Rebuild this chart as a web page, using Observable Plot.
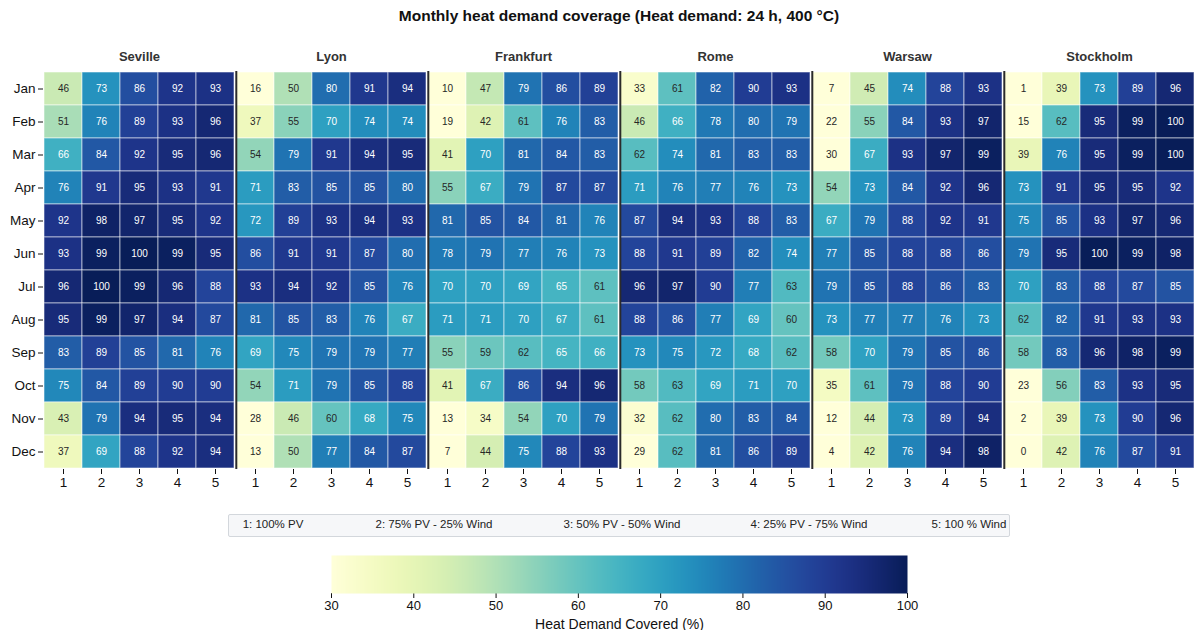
<!DOCTYPE html>
<html>
<head>
<meta charset="utf-8">
<script src="https://cdn.jsdelivr.net/npm/d3@7"></script>
<script src="https://cdn.jsdelivr.net/npm/@observablehq/plot@0.6"></script>
<style>
  html, body { margin: 0; padding: 0; background: #fff; }
  #root { position: relative; width: 1197px; height: 630px; font-family: "Liberation Sans", Arial, sans-serif; overflow: hidden; }
  #title { position: absolute; left: 43px; width: 1152px; top: 7px; text-align: center; font-weight: bold; font-size: 15.5px; color: #111; }
  #heat { position: absolute; left: 0; top: 40px; }
  #legendbox { position: absolute; left: 228px; top: 514px; width: 780px; height: 21px; background: #f6f7f9; border: 1px solid #d3d7dc; border-radius: 2px; }
  #legendbox span { position: absolute; top: 3px; font-size: 11.5px; color: #222; transform: translateX(-50%); white-space: nowrap; }
  #cbar { position: absolute; left: 0; top: 550px; }
</style>
</head>
<body>
<div id="root">
  <div id="title">Monthly heat demand coverage (Heat demand: 24 h, 400 °C)</div>
  <div id="heat"></div>
  <div id="legendbox"></div>
  <div id="cbar"></div>
</div>
<script>
const cities = ["Seville", "Lyon", "Frankfurt", "Rome", "Warsaw", "Stockholm"];
const months = ["Jan","Feb","Mar","Apr","May","Jun","Jul","Aug","Sep","Oct","Nov","Dec"];
const strategies = [1, 2, 3, 4, 5];
const strategyLabels = ["1: 100% PV", "2: 75% PV - 25% Wind", "3: 50% PV - 50% Wind", "4: 25% PV - 75% Wind", "5: 100 % Wind"];

const seville = [
  [46,73,86,92,93],[51,76,89,93,96],[66,84,92,95,96],[76,91,95,93,91],
  [92,98,97,95,92],[93,99,100,99,95],[96,100,99,96,88],[95,99,97,94,87],
  [83,89,85,81,76],[75,84,89,90,90],[43,79,94,95,94],[37,69,88,92,94]];
const lyon = [
  [16,50,80,91,94],[37,55,70,74,74],[54,79,91,94,95],[71,83,85,85,80],
  [72,89,93,94,93],[86,91,91,87,80],[93,94,92,85,76],[81,85,83,76,67],
  [69,75,79,79,77],[54,71,79,85,88],[28,46,60,68,75],[13,50,77,84,87]];
const frankfurt = [
  [10,47,79,86,89],[19,42,61,76,83],[41,70,81,84,83],[55,67,79,87,87],
  [81,85,84,81,76],[78,79,77,76,73],[70,70,69,65,61],[71,71,70,67,61],
  [55,59,62,65,66],[41,67,86,94,96],[13,34,54,70,79],[7,44,75,88,93]];
const rome = [
  [33,61,82,90,93],[46,66,78,80,79],[62,74,81,83,83],[71,76,77,76,73],
  [87,94,93,88,83],[88,91,89,82,74],[96,97,90,77,63],[88,86,77,69,60],
  [73,75,72,68,62],[58,63,69,71,70],[32,62,80,83,84],[29,62,81,86,89]];
const warsaw = [
  [7,45,74,88,93],[22,55,84,93,97],[30,67,93,97,99],[54,73,84,92,96],
  [67,79,88,92,91],[77,85,88,88,86],[79,85,88,86,83],[73,77,77,76,73],
  [58,70,79,85,86],[35,61,79,88,90],[12,44,73,89,94],[4,42,76,94,98]];
const stockholm = [
  [1,39,73,89,96],[15,62,95,99,100],[39,76,95,99,100],[73,91,95,95,92],
  [75,85,93,97,96],[79,95,100,99,98],[70,83,88,87,85],[62,82,91,93,93],
  [58,83,96,98,99],[23,56,83,93,95],[2,39,73,90,96],[0,42,76,87,91]];

const colorDomain = [30, 100];
const colorTicks = [30, 40, 50, 60, 70, 80, 90, 100];

const cityValues = {Seville: seville, Lyon: lyon, Frankfurt: frankfurt, Rome: rome, Warsaw: warsaw, Stockholm: stockholm};
const cells = [];
for (const city of cities) {
  cityValues[city].forEach((row, mi) => {
    row.forEach((v, si) => cells.push({city, month: months[mi], strategy: strategies[si], value: v}));
  });
}

const W = 1197, H = 460, mL = 43, mR = 2, mT = 31, mB = 31;
const cellW = (W - mL - mR) / cities.length / strategies.length;
const colorScale = {type: "linear", scheme: "ylgnbu", domain: colorDomain, clamp: true};

const heat = Plot.plot({
  width: W, height: H, marginTop: mT, marginBottom: mB, marginLeft: mL, marginRight: mR,
  style: {fontFamily: "Liberation Sans, Arial, sans-serif", fontSize: "13.5px", color: "#111", background: "white"},
  fx: {domain: cities, padding: 0, axis: null},
  x: {domain: strategies, padding: 0, tickSize: 5, tickPadding: 3, label: null},
  y: {domain: months, padding: 0, tickSize: 5, tickPadding: 3, label: null},
  color: colorScale,
  marks: [
    Plot.cell(cells, {fx: "city", x: "strategy", y: "month", fill: "value", stroke: "white", strokeOpacity: 0.55, strokeWidth: 1, inset: 0}),
    Plot.text(cells, {fx: "city", x: "strategy", y: "month", text: d => String(d.value), fontSize: 10, fill: d => d.value < 64 ? "#262626" : "white"}),
    Plot.ruleX(cities.slice(1), {fx: d => d, x: () => strategies[0], dx: -cellW / 2, stroke: "#2b2b2b", strokeWidth: 2}),
    Plot.text(cities, {fx: d => d, text: d => d, frameAnchor: "top", dy: -11, lineAnchor: "bottom", fontWeight: "bold", fontSize: 13, fill: "#333"})
  ]
});
document.getElementById("heat").appendChild(heat);

const lb = document.getElementById("legendbox");
const centers = [44, 205, 393, 580, 740];
strategyLabels.forEach((t, i) => {
  const s = document.createElement("span");
  s.textContent = t;
  s.style.left = centers[i] + "px";
  lb.appendChild(s);
});

const cbar = Plot.plot({
  width: W, height: 80, marginLeft: 331, marginRight: 290, marginTop: 5, marginBottom: 37,
  style: {fontFamily: "Liberation Sans, Arial, sans-serif", fontSize: "13px", color: "#111", background: "white"},
  x: {domain: colorDomain, ticks: colorTicks, tickSize: 5, tickPadding: 2, label: "Heat Demand Covered (%)", labelAnchor: "center", labelOffset: 35, labelArrow: "none"},
  y: {domain: [0, 1], axis: null},
  color: colorScale,
  marks: [
    Plot.raster({fill: (x, y) => x, x1: colorDomain[0], x2: colorDomain[1], y1: 0, y2: 1, width: 576, height: 1, imageRendering: "auto"})
  ]
});
cbar.querySelectorAll("[aria-label='x-axis label'] text").forEach(t => t.style.fontSize = "14px");
document.getElementById("cbar").appendChild(cbar);
</script>
</body>
</html>
